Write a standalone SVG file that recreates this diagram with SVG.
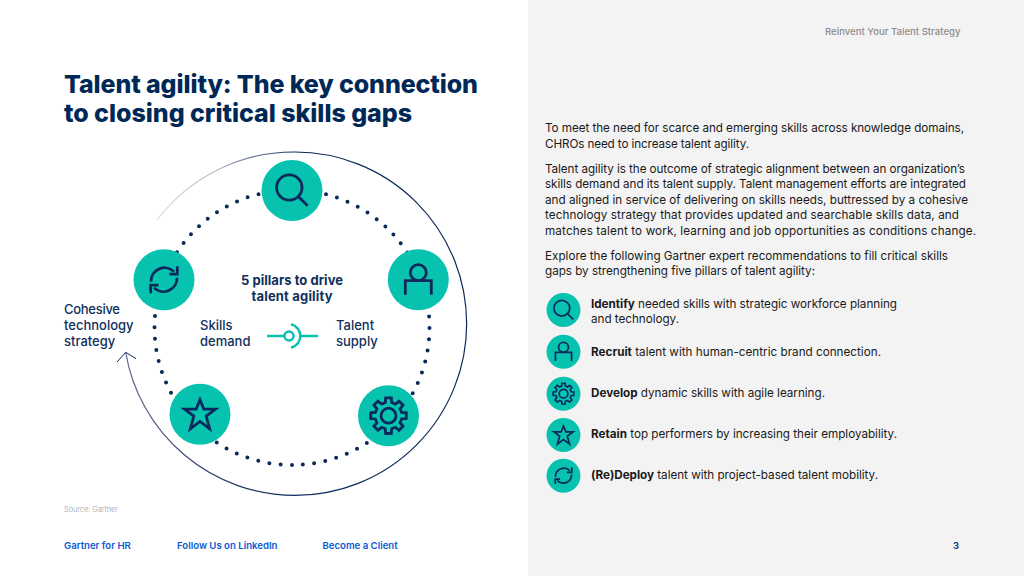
<svg xmlns="http://www.w3.org/2000/svg" width="1024" height="576" viewBox="0 0 1024 576">
<style>
text{font-family:Inter,"Liberation Sans",sans-serif;}
.title{font-size:25px;font-weight:800;fill:#002856;}
.lab{font-size:13px;font-weight:500;fill:#0f2f5c;}
.labb{font-size:13px;font-weight:700;fill:#0f2f5c;}
.body{font-size:11.7px;fill:#1a1a1a;}
.link{font-size:9.6px;font-weight:600;fill:#0a5ad2;}
.ic{fill:none;stroke:#0b2a5b;stroke-width:2.8;}
.disc{fill:#08c2b0;}
</style>
<defs>
<linearGradient id="fade" gradientUnits="userSpaceOnUse" x1="157" y1="220" x2="300" y2="152"><stop offset="0" stop-color="#dcdce2"/><stop offset="0.5" stop-color="#b5b5c6"/><stop offset="1" stop-color="#0b2a5b"/></linearGradient>
<linearGradient id="fade2" gradientUnits="userSpaceOnUse" x1="295" y1="495" x2="125" y2="352"><stop offset="0" stop-color="#0b2a5b"/><stop offset="1" stop-color="#6a6a8c"/></linearGradient>
<g id="i-search"><circle cx="-2.7" cy="-3" r="12.7"/><path d="M6.300 6L15.700 15.300"/></g>
<g id="i-person"><circle cx="0" cy="-7" r="8"/><path d="M-13 15V1H13V15"/></g>
<g id="i-sync"><path d="M-13 2A13.500 13.500 0 0 1 10 -8M13 -2A13.500 13.500 0 0 1 -10 8"/><path d="M13.300 -13.500V-5.500H5.500M-13.300 13.500V5.500H-5.500"/></g>
<g id="i-star"><path d="M0 -14.500L3.800 -5.200H15.500L6.200 1.800L9.700 14.500L0 7.200L-9.700 14.500L-6.200 1.800L-15.500 -5.200H-3.800Z"/></g>
<g id="i-gear"><circle r="7.500"/><path d="M13.100 3.270L17.780 2.820V-2.820L13.100 -3.270L11.570 -6.950L14.560 -10.580L10.580 -14.560L6.950 -11.570L3.270 -13.100L2.820 -17.780H-2.820L-3.270 -13.100L-6.950 -11.570L-10.580 -14.560L-14.560 -10.580L-11.570 -6.950L-13.100 -3.270L-17.780 -2.820V2.820L-13.100 3.270L-11.570 6.950L-14.560 10.580L-10.580 14.560L-6.950 11.570L-3.270 13.100L-2.820 17.780H2.820L3.270 13.100L6.950 11.570L10.580 14.560L14.560 10.580L11.570 6.950Z"/></g>
</defs>
<rect width="1024" height="576" fill="#fff"/>
<rect x="528" width="496" height="576" fill="#f3f3f3"/>
<text x="825" y="35" font-size="9.600" font-weight="500" fill="#8c8c8c">Reinvent Your Talent Strategy</text>
<text class="title" x="64" y="93" textLength="414">Talent agility: The key connection</text>
<text class="title" x="64" y="122" textLength="348">to closing critical skills gaps</text>
<g id="connectors">
<path d="M292 465A137.500 137.500 0 1 1 292 190A137.500 137.500 0 1 1 292 465" fill="none" stroke="#0b2a5b" stroke-width="4" stroke-linecap="round" stroke-dasharray="0 11.370"/>
<path d="M157 220A171.700 171.700 0 0 1 295 152" fill="none" stroke="url(#fade)" stroke-width="1.200"/>
<path d="M295 152A171.700 171.700 0 0 1 295 495.400" fill="none" stroke="#0b2a5b" stroke-width="1.200"/>
<path d="M295 495.400A171.700 171.700 0 0 1 125.700 352.300" fill="none" stroke="url(#fade2)" stroke-width="1.200"/>
<path d="M117 362L125.700 352.300L136 358.600" fill="none" stroke="#0b2a5b" stroke-width="1"/>
</g>
<g id="pillar-identify"><circle class="disc" cx="292" cy="190.500" r="30.500"/><use href="#i-search" class="ic" x="292" y="190.500"/></g>
<g id="pillar-recruit"><circle class="disc" cx="418.300" cy="279.700" r="30.500"/><use href="#i-person" class="ic" x="418.300" y="279.700"/></g>
<g id="pillar-develop"><circle class="disc" cx="388.500" cy="415.700" r="30.500"/><use href="#i-gear" class="ic" x="388.500" y="415.700"/></g>
<g id="pillar-retain"><circle class="disc" cx="200" cy="414.300" r="30.500"/><use href="#i-star" class="ic" x="200" y="414.300"/></g>
<g id="pillar-redeploy"><circle class="disc" cx="164" cy="279.700" r="30.500"/><use href="#i-sync" class="ic" x="164" y="279.700"/></g>
<g id="center">
<text class="labb" text-anchor="middle" x="292" y="285" textLength="102">5 pillars to drive</text>
<text class="labb" text-anchor="middle" x="292" y="301" textLength="81">talent agility</text>
<text class="lab" x="200" y="330">Skills</text><text class="lab" x="200" y="346">demand</text>
<text class="lab" x="336" y="330">Talent</text><text class="lab" x="336" y="346">supply</text>
<g fill="none" stroke="#08c2b0" stroke-width="2.500"><path d="M267 336H284M300 336H318"/><circle cx="289" cy="336" r="4.500"/><path d="M291 324.300A12 12 0 0 1 291 347.700"/></g>
</g>
<g id="cohesive"><text class="lab" x="64" y="314" textLength="56">Cohesive</text><text class="lab" x="64" y="330">technology</text><text class="lab" x="64" y="346">strategy</text></g>
<text x="64" y="512" font-size="7.500" font-weight="300" fill="#a0a0a0" textLength="54">Source: Gartner</text>
<text class="link" x="64" y="549">Gartner for HR</text>
<text class="link" x="177" y="549">Follow Us on LinkedIn</text>
<text class="link" x="322.500" y="549">Become a Client</text>
<text x="953" y="549" font-size="9.500" font-weight="600" fill="#0b2a5b">3</text>
<g id="copy">
<text class="body" x="545" y="132" textLength="419">To meet the need for scarce and emerging skills across knowledge domains,</text>
<text class="body" x="545" y="148" textLength="204">CHROs need to increase talent agility.</text>
<text class="body" x="545" y="173" textLength="420">Talent agility is the outcome of strategic alignment between an organization’s</text>
<text class="body" x="545" y="188" textLength="421">skills demand and its talent supply. Talent management efforts are integrated</text>
<text class="body" x="545" y="204" textLength="423">and aligned in service of delivering on skills needs, buttressed by a cohesive</text>
<text class="body" x="545" y="219" textLength="414">technology strategy that provides updated and searchable skills data, and</text>
<text class="body" x="545" y="235" textLength="431">matches talent to work, learning and job opportunities as conditions change.</text>
<text class="body" x="545" y="260" textLength="403">Explore the following Gartner expert recommendations to fill critical skills</text>
<text class="body" x="545" y="275" textLength="270">gaps by strengthening five pillars of talent agility:</text>
</g>
<g id="item-identify"><circle class="disc" cx="563.500" cy="310" r="17"/><use href="#i-search" class="ic" transform="translate(563.500 310) scale(.62)"/><text class="body" x="591" y="308" textLength="306"><tspan font-weight="700">Identify</tspan> needed skills with strategic workforce planning</text><text class="body" x="591" y="323" textLength="88">and technology.</text></g>
<g id="item-recruit"><circle class="disc" cx="563.500" cy="351.700" r="17"/><use href="#i-person" class="ic" transform="translate(563.500 351.700) scale(.62)"/><text class="body" x="591" y="356" textLength="290"><tspan font-weight="700">Recruit</tspan> talent with human-centric brand connection.</text></g>
<g id="item-develop"><circle class="disc" cx="563.500" cy="393.700" r="17"/><use href="#i-gear" class="ic" transform="translate(563.500 393.700) scale(.58)"/><text class="body" x="591" y="397" textLength="234"><tspan font-weight="700">Develop</tspan> dynamic skills with agile learning.</text></g>
<g id="item-retain"><circle class="disc" cx="563.500" cy="435" r="17"/><use href="#i-star" class="ic" transform="translate(563.500 435) scale(.62)"/><text class="body" x="591" y="438" textLength="306"><tspan font-weight="700">Retain</tspan> top performers by increasing their employability.</text></g>
<g id="item-redeploy"><circle class="disc" cx="563.500" cy="475.700" r="17"/><use href="#i-sync" class="ic" transform="translate(563.500 475.700) scale(.62)"/><text class="body" x="591" y="479" textLength="287"><tspan font-weight="700">(Re)Deploy</tspan> talent with project-based talent mobility.</text></g>
</svg>
